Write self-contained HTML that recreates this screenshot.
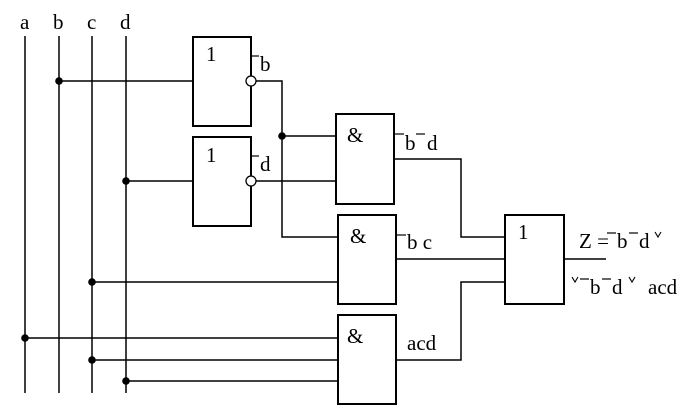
<!DOCTYPE html>
<html><head><meta charset="utf-8"><style>
html,body{margin:0;padding:0;background:#fff;}
svg{display:block;}
text{font-family:"Liberation Serif","DejaVu Serif",serif;font-size:21px;fill:#000;}
</style></head><body>
<svg width="696" height="408" viewBox="0 0 696 408" xmlns="http://www.w3.org/2000/svg">
<g stroke="#000" stroke-width="1.5" fill="none">
<line x1="25" y1="36" x2="25" y2="393"/>
<line x1="59" y1="36" x2="59" y2="393"/>
<line x1="92" y1="36" x2="92" y2="393"/>
<line x1="126" y1="36" x2="126" y2="393"/>
<line x1="59" y1="81" x2="193" y2="81"/>
<line x1="126" y1="181" x2="193" y2="181"/>
<polyline points="256,81 282,81 282,237 338,237"/>
<line x1="282" y1="136" x2="336" y2="136"/>
<line x1="256" y1="181" x2="336" y2="181"/>
<line x1="92" y1="282" x2="338" y2="282"/>
<line x1="25" y1="338" x2="338" y2="338"/>
<line x1="92" y1="360" x2="338" y2="360"/>
<line x1="126" y1="381" x2="338" y2="381"/>
<polyline points="394,159 461,159 461,237 505,237"/>
<line x1="396" y1="259" x2="505" y2="259"/>
<polyline points="396,360 461,360 461,282 505,282"/>
<line x1="564" y1="259" x2="606" y2="259"/>
</g>
<g stroke="#000" stroke-width="2" fill="#fff">
<rect x="193" y="37" width="58" height="89"/>
<rect x="193" y="137" width="58" height="89"/>
<rect x="336" y="114" width="58" height="90"/>
<rect x="338" y="215" width="58" height="89"/>
<rect x="338" y="315" width="58" height="89"/>
<rect x="505" y="215" width="59" height="89"/>
</g>
<g stroke="#000" stroke-width="1.3" fill="#fff">
<circle cx="251" cy="81" r="5"/>
<circle cx="251" cy="181" r="5"/>
</g>
<g fill="#000">
<circle cx="59" cy="81" r="3.8"/>
<circle cx="126" cy="181" r="3.8"/>
<circle cx="282" cy="136" r="3.8"/>
<circle cx="92" cy="282" r="3.8"/>
<circle cx="25" cy="338" r="3.8"/>
<circle cx="92" cy="360" r="3.8"/>
<circle cx="126" cy="381" r="3.8"/>
</g>
<g stroke="#000" stroke-width="1.2">
<line x1="251" y1="56" x2="259" y2="56"/>
<line x1="251" y1="156" x2="259" y2="156"/>
<line x1="395" y1="134" x2="404" y2="134"/>
<line x1="416" y1="134" x2="425" y2="134"/>
<line x1="397" y1="235" x2="406" y2="235"/>
<line x1="607" y1="233" x2="616" y2="233"/>
<line x1="629" y1="233" x2="638" y2="233"/>
<line x1="580" y1="279" x2="589" y2="279"/>
<line x1="602" y1="279" x2="611" y2="279"/>
</g>
<g stroke="#000" stroke-width="1.1" fill="none">
<polyline points="655,232 658,237 661,232"/>
<polyline points="572,277 575,282 578,277"/>
<polyline points="629,277 632,282 635,277"/>
</g>
<text x="20" y="29">a</text>
<text x="53" y="29">b</text>
<text x="87" y="29">c</text>
<text x="120" y="29">d</text>
<text x="206" y="61">1</text>
<text x="206" y="162">1</text>
<text x="347" y="142">&amp;</text>
<text x="350" y="243">&amp;</text>
<text x="347" y="343">&amp;</text>
<text x="518" y="239">1</text>
<text x="260" y="71">b</text>
<text x="260" y="171">d</text>
<text x="405" y="150">b</text>
<text x="427" y="150">d</text>
<text x="407" y="249">b c</text>
<text x="407" y="350">acd</text>
<text x="579" y="248">Z =</text>
<text x="617" y="248">b</text>
<text x="639" y="248">d</text>
<text x="590" y="294">b</text>
<text x="612" y="294">d</text>
<text x="648" y="294">acd</text>
</svg>
</body></html>
